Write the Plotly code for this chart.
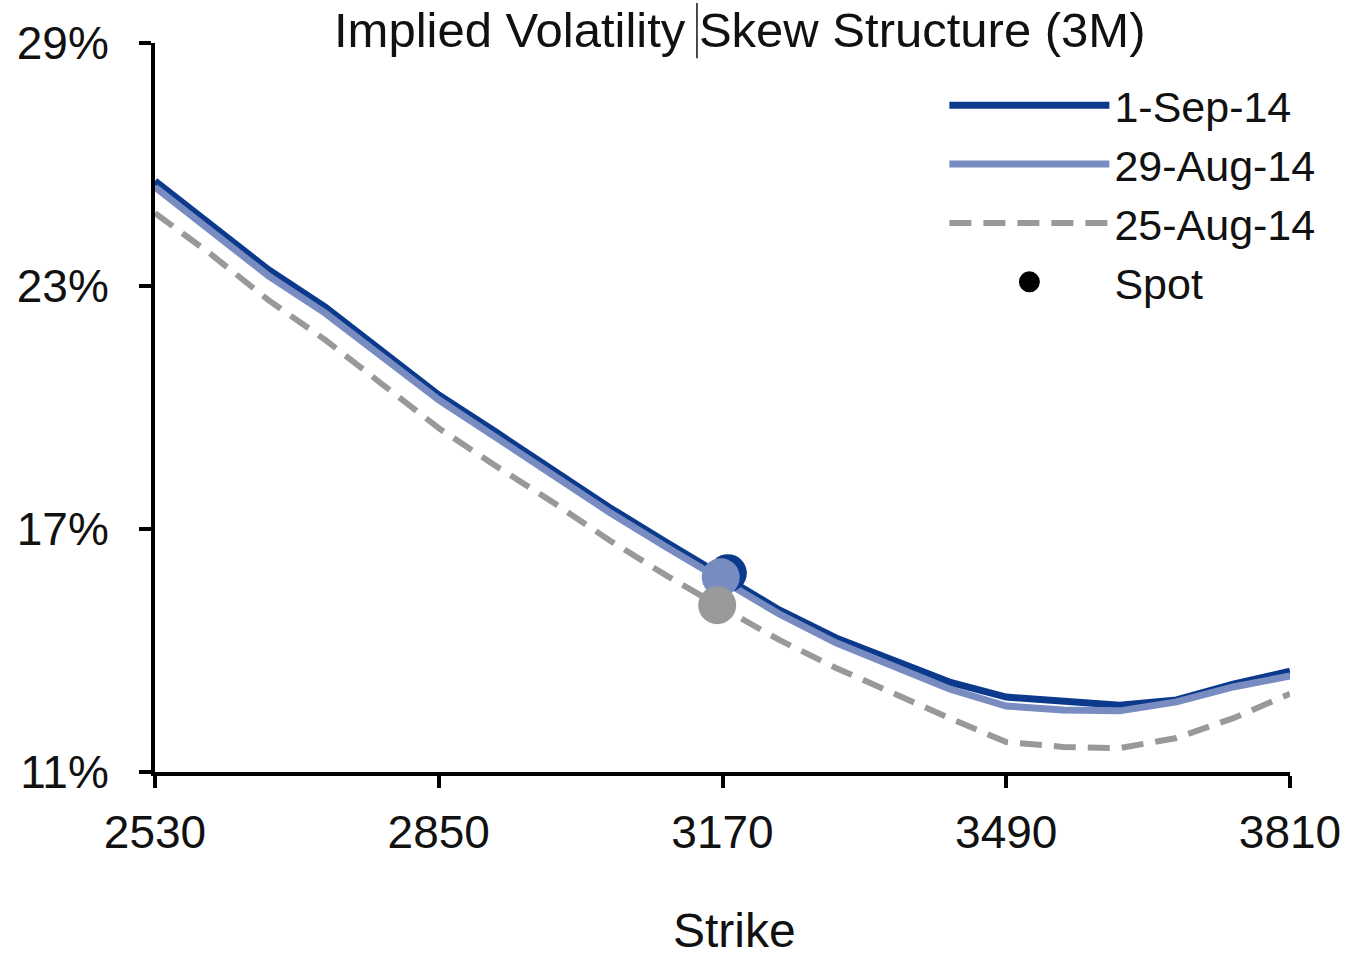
import plotly.graph_objects as go

# Strike grid (3M options)
strikes = [2530, 2594, 2658, 2722, 2786, 2850, 2914, 2978, 3042, 3106, 3170,
           3234, 3298, 3362, 3426, 3490, 3554, 3618, 3682, 3746, 3810]

# Implied volatility (%) per strike for each pricing date
iv_1sep = [25.59, 24.51, 23.40, 22.48, 21.42, 20.31, 19.40, 18.46, 17.54, 16.68, 15.86,
           15.00, 14.31, 13.77, 13.22, 12.85, 12.73, 12.65, 12.78, 13.17, 13.49]
iv_29aug = [25.44, 24.36, 23.25, 22.33, 21.27, 20.19, 19.27, 18.33, 17.42, 16.56, 15.74,
            14.90, 14.19, 13.62, 13.05, 12.63, 12.53, 12.51, 12.73, 13.10, 13.37]
iv_25aug = [24.80, 23.77, 22.65, 21.67, 20.58, 19.49, 18.56, 17.67, 16.73, 15.86, 15.05,
            14.26, 13.57, 12.93, 12.33, 11.74, 11.62, 11.59, 11.84, 12.33, 12.93]

# Spot level and ATM vol on each date
spot_levels = [3176, 3168, 3164]
spot_vols = [15.91, 15.81, 15.12]

series_names = ["1-Sep-14", "29-Aug-14", "25-Aug-14"]
x_ticks = [2530, 2850, 3170, 3490, 3810]
y_ticks = [11, 17, 23, 29]
y_tick_labels = ["11%", "17%", "23%", "29%"]

DARK = "#0B3A8C"
LIGHT = "#788CC2"
GREY = "#999999"
FONT = "Liberation Sans, Arial, sans-serif"
INK = "#111111"

fig = go.Figure()

fig.add_trace(go.Scatter(x=strikes, y=iv_1sep, mode="lines", name=series_names[0],
                         line=dict(color=DARK, width=7)))
fig.add_trace(go.Scatter(x=strikes, y=iv_29aug, mode="lines", name=series_names[1],
                         line=dict(color=LIGHT, width=7)))
fig.add_trace(go.Scatter(x=strikes, y=iv_25aug, mode="lines", name=series_names[2],
                         line=dict(color=GREY, width=6, dash="22px,12px")))

for lvl, vol, col in zip(spot_levels, spot_vols, [DARK, LIGHT, GREY]):
    fig.add_trace(go.Scatter(x=[lvl], y=[vol], mode="markers", showlegend=False,
                             marker=dict(color=col, size=38, line=dict(width=0))))

# Legend entry for the spot markers
fig.add_trace(go.Scatter(x=[None], y=[None], mode="markers", name="Spot",
                         marker=dict(color="black", size=16,
                                     line=dict(color="black", width=5))))

fig.update_layout(
    width=1353, height=959,
    margin=dict(l=155, r=63, t=43, b=187),
    paper_bgcolor="white", plot_bgcolor="white",
    font=dict(family=FONT, color=INK),
    showlegend=True,
    legend=dict(x=0.6955, y=0.962, xanchor="left", yanchor="top",
                bgcolor="rgba(0,0,0,0)", font=dict(size=43, family=FONT, color=INK),
                itemwidth=160, tracegroupgap=0),
    xaxis=dict(range=[2530, 3810], tickvals=x_ticks, ticks="outside", ticklen=12,
               tickwidth=4, tickcolor="black", showline=True, linewidth=4,
               linecolor="black", showgrid=False, zeroline=False,
               tickfont=dict(size=46, family=FONT, color=INK),
               ticklabelstandoff=5),
    yaxis=dict(range=[11, 29], tickmode="array", tickvals=y_ticks, ticktext=y_tick_labels,
               ticks="outside", ticklen=12, tickwidth=4, tickcolor="black", showline=True,
               linewidth=4, linecolor="black", showgrid=False, zeroline=False,
               tickfont=dict(size=46, family=FONT, color=INK),
               ticklabelstandoff=21),
    annotations=[
        dict(text="Implied Volatility Skew Structure (3M)", xref="paper", yref="paper",
             x=0.5154, y=1.018, xanchor="center", yanchor="middle", showarrow=False,
             font=dict(size=49, family=FONT, color=INK)),
        dict(text="Strike", xref="paper", yref="paper", x=0.511, y=-0.217,
             xanchor="center", yanchor="middle", showarrow=False,
             font=dict(size=48, family=FONT, color=INK)),
    ],
    shapes=[
        dict(type="line", xref="paper", yref="paper", x0=0.4775, x1=0.4775,
             y0=0.979, y1=1.055, line=dict(color=INK, width=1.5)),
    ],
)

fig.write_html("out.html")
